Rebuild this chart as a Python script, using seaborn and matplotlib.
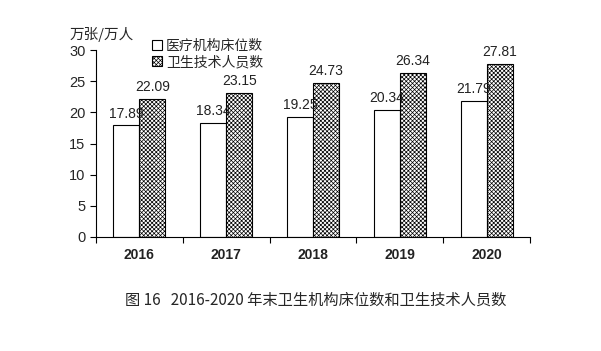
import matplotlib
matplotlib.use("Agg")
import matplotlib.pyplot as plt
import seaborn as sns
import pandas as pd
import numpy as np

years = ["2016", "2017", "2018", "2019", "2020"]
beds = [17.89, 18.34, 19.25, 20.34, 21.79]
staff = [22.09, 23.15, 24.73, 26.34, 27.81]
series_names = ["医疗机构床位数", "卫生技术人员数"]
yticks = [0, 5, 10, 15, 20, 25, 30]

sns.set_theme(style="white")
plt.rcParams['font.family'] = ['Liberation Sans', 'Noto Sans CJK SC', 'DejaVu Sans']
plt.rcParams['hatch.color'] = '#777777'
plt.rcParams['hatch.linewidth'] = 0.5

df = pd.DataFrame({
    "year": years * 2,
    "value": beds + staff,
    "series": [series_names[0]] * len(years) + [series_names[1]] * len(years),
})

fig = plt.figure(figsize=(6.01, 3.51), dpi=100)
ax = fig.add_axes([96/601, 1 - 237/351, (530 - 96)/601, (237 - 50)/351])

sns.barplot(data=df, x="year", y="value", hue="series", ax=ax,
            palette=["white", "white"], edgecolor="black", linewidth=0.8,
            width=0.6, gap=0, legend=True)

n = len(years)
for i, patch in enumerate(ax.patches[:2*n]):
    if i >= n:
        patch.set_hatch("xxxxxxxx")

for cont, vals in zip(ax.containers, [beds, staff]):
    ax.bar_label(cont, labels=[f"{v:.2f}" for v in vals], padding=3.5,
                 fontsize=10, color="#222222")

ax.set_ylim(0, 30)
ax.set_xlim(-0.5, n - 0.5)
ax.set_yticks(yticks)
ax.set_yticklabels([str(t) for t in yticks], fontsize=10.5)
ax.set_xticks(np.arange(-0.5, n, 1.0))
ax.set_xticklabels([])
for i, y in enumerate(years):
    ax.text(i, -0.06, y, transform=ax.get_xaxis_transform(), ha="center", va="top",
            fontsize=10, fontweight="semibold", color="#222222")
ax.set_xlabel("")
ax.set_ylabel("")
ax.tick_params(axis="both", direction="out", length=4, width=0.8, color="black",
               left=True, bottom=True)
for s in ["top", "right"]:
    ax.spines[s].set_visible(False)
for s in ["left", "bottom"]:
    ax.spines[s].set_color("black")
    ax.spines[s].set_linewidth(0.8)

leg = ax.legend(loc="upper left", bbox_to_anchor=(0.1, 1.125), frameon=False,
                handlelength=0.7, handleheight=0.7,
                handletextpad=0.3, labelspacing=0.15,
                prop={'family': ['Noto Sans CJK SC'], 'size': 10})
for h in leg.legend_handles:
    h.set_edgecolor("black")
leg.legend_handles[1].set_hatch("xxxxxxxx")

fig.text(70/601, 1 - 35/351, "万张/万人", fontsize=10.5, family=['Noto Sans CJK SC'],
         va="center", ha="left")
fig.text(316/601, 1 - 300/351, "图 16   2016-2020 年末卫生机构床位数和卫生技术人员数",
         fontsize=11, family=['Noto Sans CJK SC'], ha="center", va="center")

fig.savefig("out.png", dpi=100)
